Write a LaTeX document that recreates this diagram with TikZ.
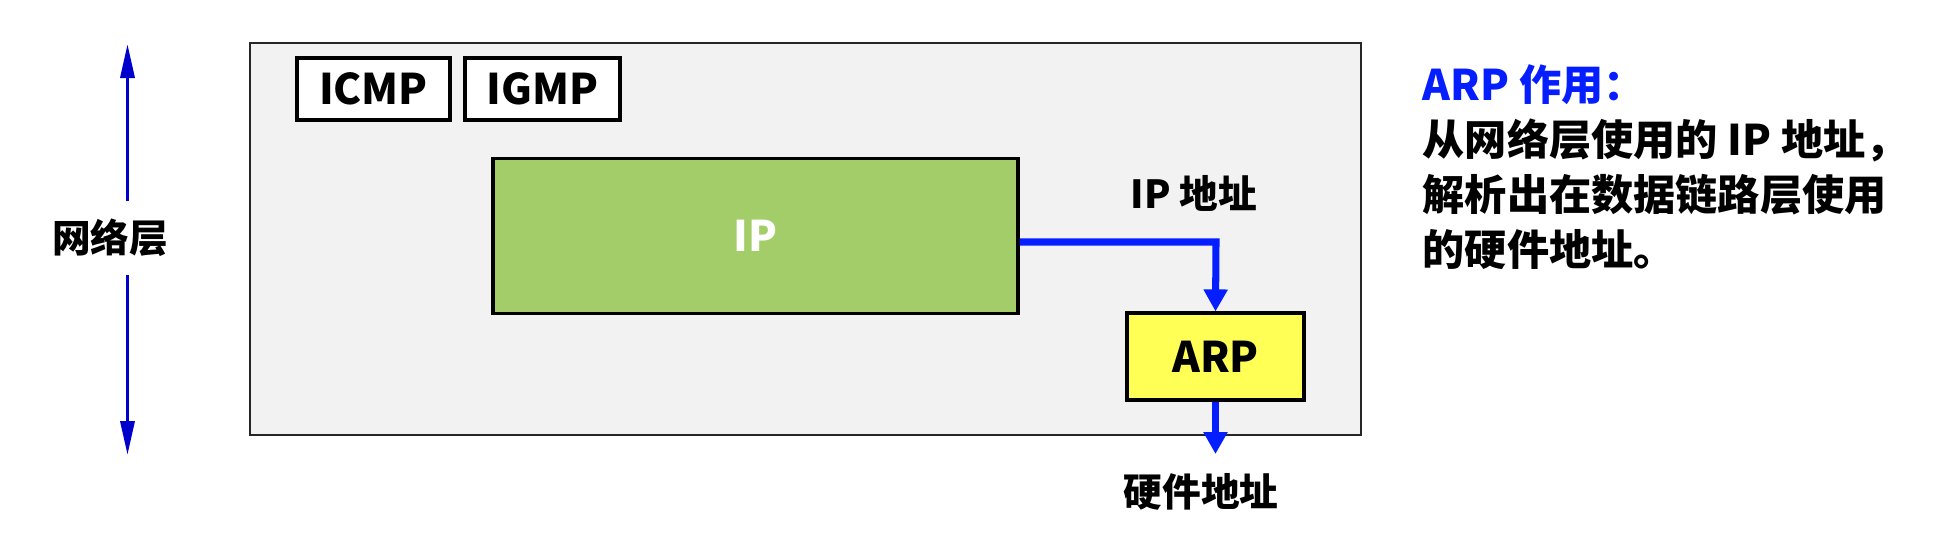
\documentclass[tikz,border=0pt]{standalone}
\usepackage{fontspec}
\setmainfont{Noto Sans CJK SC}[BoldFont={Noto Sans CJK SC Black}]
\usepackage{xcolor}
\usepackage{tikz}
\usetikzlibrary{positioning,arrows.meta}
\definecolor{ipgreen}{RGB}{162,205,104}
\definecolor{arpyellow}{RGB}{255,255,85}
\definecolor{layergray}{RGB}{242,242,242}
\definecolor{arrowblue}{RGB}{0,0,204}
\definecolor{flowblue}{RGB}{5,30,255}

\begin{document}
\begin{tikzpicture}[protobox/.style={rectangle, draw=black, line width=0.9pt, inner sep=0pt, font=\fontsize{12}{14}\selectfont\bfseries}, labeltext/.style={inner sep=0pt, font=\fontsize{11}{13}\selectfont\bfseries}, flow/.style={line width=2pt, color=flowblue, -{Triangle[length=0.22cm, width=0.23cm]}}]
\useasboundingbox (0,0) rectangle (19.52,5.36);

\node[rectangle, draw=black!85, line width=0.8pt, fill=layergray, minimum width=11.11cm, minimum height=3.92cm, inner sep=0pt] at (8.055, 2.97) (netlayer) {};
\node[protobox, fill=white, minimum width=1.53cm, minimum height=0.62cm] at (3.735, 4.47) (icmp) {ICMP};
\node[protobox, fill=white, minimum width=1.55cm, minimum height=0.62cm] at (5.425, 4.47) (igmp) {IGMP};
\node[protobox, fill=ipgreen, text=white, minimum width=5.25cm, minimum height=1.555cm] at (7.555, 3.00) (ip) {IP};
\node[protobox, fill=arpyellow, minimum width=1.77cm, minimum height=0.87cm] at (12.155, 1.795) (arp) {ARP};

\node[labeltext, minimum height=0.72cm] at (1.10, 2.98) (netname) {网络层};
\coordinate (nettop) at (1.275, 4.92);
\coordinate (netbottom) at (1.275, 0.81);
\draw[line width=1pt, color=arrowblue, -{Triangle[length=0.34cm, width=0.14cm]}] (netname.north -| nettop) -- (nettop);
\draw[line width=1pt, color=arrowblue, -{Triangle[length=0.34cm, width=0.14cm]}] (netname.south -| netbottom) -- (netbottom);

\coordinate (bend) at (12.16, 2.94);
\draw[flow] (ip.east |- bend) -- (bend) -- (arp.north);
\node[labeltext] at (11.94, 3.43) (ipaddr) {IP 地址};
\coordinate (hwend) at (arp.south |- 0,0.82);
\draw[flow] (arp.south) -- (hwend);
\node[labeltext] at (12.01, 0.44) (hwaddr) {硬件地址};

\node[inner sep=0pt, anchor=north west, align=left, font=\fontsize{12}{15.6}\selectfont\bfseries] at (14.22, 4.72) (note) {\textcolor{flowblue}{ARP 作用：}\\从网络层使用的 IP 地址，\\解析出在数据链路层使用\\的硬件地址。};

\end{tikzpicture}
\end{document}
